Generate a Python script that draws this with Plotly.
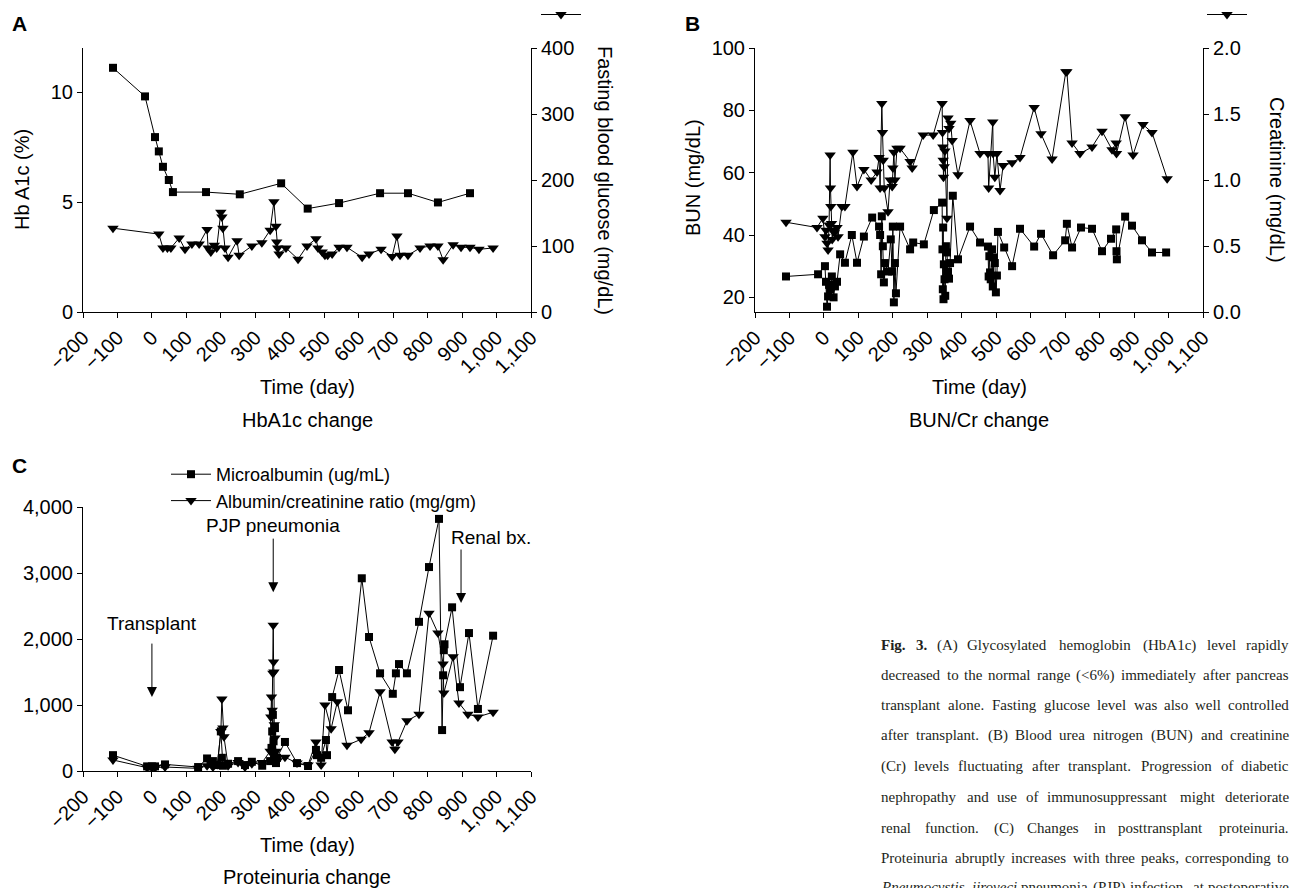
import plotly.graph_objects as go

# ---------------- data ----------------
# Panel A: HbA1c (%) and fasting blood glucose (mg/dL)
hba1c_day = [-113, -20, 9, 20, 32, 49, 61, 157, 255, 375, 452, 543, 662, 743, 830, 923]
hba1c_val = [11.1, 9.8, 7.95, 7.3, 6.6, 6.0, 5.45, 5.45, 5.35, 5.85, 4.7, 4.95, 5.4, 5.4, 4.98, 5.4]

glu_day = [-113, 20, 32, 45, 55, 79, 96, 116, 137, 160, 163, 171, 181, 188, 200, 203, 206, 212, 221,
           247, 253, 290, 319, 343, 354, 360, 362, 365, 369, 389, 424, 450, 476, 482, 494, 502, 510,
           523, 543, 566, 610, 630, 665, 697, 711, 720, 743, 778, 807, 830, 845, 874, 897, 923, 949, 990]
glu_val = [127, 118, 97, 97, 97, 112, 95, 103, 103, 125, 97, 91, 101, 97, 151, 144, 127, 97, 83,
           108, 86, 100, 105, 124, 167, 130, 106, 97, 88, 97, 80, 100, 111, 97, 91, 86, 86,
           88, 98, 98, 83, 88, 95, 84, 115, 86, 86, 97, 100, 100, 79, 102, 98, 98, 95, 97]

# Panel B: BUN (mg/dL) and creatinine (mg/dL)
bun_day = [-110, -17, 3, 6, 9, 12, 15, 18, 23, 28, 32, 38, 47, 61, 81, 96, 116, 140, 160, 163, 166,
           168, 171, 174, 177, 186, 194, 198, 200, 203, 206, 209, 221, 250, 259, 290, 319, 343, 344,
           345, 346, 347, 348, 350, 352, 354, 357, 360, 363, 366, 374, 389, 424, 453, 476, 478, 480,
           482, 484, 488, 490, 493, 496, 499, 502, 505, 523, 546, 569, 610, 630, 665, 700, 705, 720,
           746, 778, 807, 833, 848, 849, 850, 874, 894, 923, 952, 993]
bun_val = [26.7, 27.4, 30, 25, 17, 20.3, 24, 22.6, 26.7, 20, 23.5, 25, 33.8, 31.1, 40, 31.1, 39.5, 45.6,
           42.7, 40, 27.4, 46, 36.4, 24.8, 31, 28.3, 38.6, 28.3, 42.7, 18.4, 31, 21.3, 42.7, 35.4, 37.6,
           37, 48, 50.4, 35.4, 22.6, 42.4, 19.4, 30.6, 25.8, 20.5, 36.4, 34.4, 28.3, 26, 31, 52.6, 32.2,
           42.7, 37.6, 36.3, 26.7, 33.2, 28, 25.8, 35.4, 23.5, 32.8, 31, 21.6, 27, 41, 36, 30, 42, 36.3,
           40.4, 33.5, 38.3, 43.6, 36, 42.4, 42, 34.8, 38.8, 41.8, 34.8, 32.2, 45.9, 43, 38.3, 34.4, 34.4]

cr_day = [-110, -20, -3, 3, 6, 9, 12, 15, 18, 19, 20, 22, 24, 26, 30, 38, 41, 52, 61, 84, 96, 116,
          137, 154, 160, 163, 168, 170, 172, 175, 186, 192, 198, 200, 203, 206, 212, 221, 250, 256,
          288, 317, 343, 344, 345, 346, 347, 349, 351, 357, 360, 363, 368, 372, 389, 424, 453, 476,
          478, 490, 491, 496, 502, 511, 520, 546, 569, 610, 630, 662, 702, 705, 720, 743, 778, 807,
          836, 848, 849, 874, 897, 926, 952, 996]
cr_val = [0.68, 0.64, 0.71, 0.57, 0.62, 0.52, 0.47, 0.66, 1.19, 0.94, 0.80, 0.67, 0.55, 0.62, 0.60,
          0.64, 0.57, 0.80, 0.80, 1.21, 0.95, 1.08, 1.0, 1.06, 1.17, 0.94, 1.58, 1.36, 1.15, 0.94,
          0.76, 1.0, 0.95, 1.09, 1.21, 1.0, 1.24, 1.24, 1.14, 1.09, 1.34, 1.34, 1.58, 1.36, 1.25,
          1.15, 1.02, 1.10, 1.22, 0.71, 1.47, 1.39, 1.43, 1.30, 1.04, 1.45, 1.20, 1.20, 0.94, 1.44,
          1.20, 1.02, 1.20, 0.92, 1.11, 1.13, 1.17, 1.55, 1.35, 1.16, 1.82, 1.82, 1.28, 1.20, 1.25,
          1.37, 1.23, 1.28, 1.20, 1.48, 1.19, 1.42, 1.36, 1.01]

# Panel C: microalbumin (ug/mL) and albumin/creatinine ratio (mg/gm)
mal_day = [-113, -14, 0, 9, 38, 134, 160, 170, 177, 190, 200, 203, 206, 221, 250, 270, 290, 320,
           343, 347, 349, 351, 353, 355, 357, 360, 363, 386, 421, 453, 476, 479, 491, 505, 508, 523,
           543, 569, 609, 630, 662, 699, 708, 717, 740, 775, 804, 833, 842, 845, 847, 849, 871, 894,
           920, 946, 990]
mal_val = [240, 70, 70, 70, 100, 60, 190, 110, 150, 90, 600, 200, 80, 110, 150, 90, 140, 80,
           150, 350, 600, 850, 450, 250, 650, 120, 200, 440, 120, 76, 320, 240, 200, 470, 240, 1120,
           1530, 920, 2920, 2030, 1480, 1170, 1480, 1620, 1480, 2260, 3090, 3820, 620, 1450, 1830, 1920,
           2480, 1270, 2090, 940, 2050]

acr_day = [-113, -14, 0, 9, 38, 134, 160, 170, 177, 190, 200, 203, 206, 209, 221, 250, 270, 290,
           320, 343, 345, 347, 349, 351, 352, 353, 354, 355, 357, 360, 363, 386, 421, 453, 476, 491,
           502, 520, 538, 566, 607, 630, 662, 697, 705, 714, 740, 775, 804, 830, 845, 847, 874, 891,
           917, 946, 990]
acr_val = [167, 50, 50, 50, 60, 40, 80, 150, 60, 100, 600, 1090, 650, 520, 80, 130, 60, 110,
           130, 300, 820, 1120, 920, 1480, 2210, 1650, 1500, 700, 500, 300, 150, 210, 120, 90, 440, 90,
           1000, 640, 1050, 390, 480, 580, 1200, 440, 330, 440, 760, 860, 2390, 2090, 1620, 1180, 1730,
           1030, 860, 820, 890]

# events marked in panel C
event_label = ["Transplant", "PJP pneumonia", "Renal bx."]
event_day = [0, 352, 897]
event_level = [1120, 2710, 2545]

x_tickvals = list(range(-200, 1101, 100))
x_ticktext = ["\u2212200", "\u2212100", "0", "100", "200", "300", "400", "500", "600", "700",
              "800", "900", "1,000", "1,100"]

# caption lines; words prefixed "b:" are bold, "i:" italic
caption_lines = [
    "b:Fig. b:3. (A) Glycosylated hemoglobin (HbA1c) level rapidly",
    "decreased to the normal range (<6%) immediately after pancreas",
    "transplant alone. Fasting glucose level was also well controlled",
    "after transplant. (B) Blood urea nitrogen (BUN) and creatinine",
    "(Cr) levels fluctuating after transplant. Progression of diabetic",
    "nephropathy and use of immunosuppressant might deteriorate",
    "renal function. (C) Changes in posttransplant proteinuria.",
    "Proteinuria abruptly increases with three peaks, corresponding to",
    "i:Pneumocystis i:jiroveci pneumonia (PJP) infection, at postoperative",
]

# ---------------- layout helpers ----------------
W, H = 1294, 888
FONT = "Liberation Sans, Arial, sans-serif"
SERIF = "Liberation Serif, Times New Roman, serif"
FS = 20


def px(x):
    return x / W


def py(y):
    return 1 - y / H


xA = [px(83), px(531)]
xB = [px(755), px(1203)]
yAB = [py(312), py(48)]
yC = [py(771), py(507)]

line = dict(color="black", width=1)
sq = dict(symbol="square", size=8, color="black")
tri = dict(symbol="triangle-down", size=10, color="black")

fig = go.Figure()
fig.add_trace(go.Scatter(x=hba1c_day, y=hba1c_val, mode="lines+markers", line=line, marker=sq,
                         xaxis="x", yaxis="y", showlegend=False))
fig.add_trace(go.Scatter(x=glu_day, y=glu_val, mode="lines+markers", line=line, marker=tri,
                         xaxis="x", yaxis="y2", name="", legend="legend2"))
fig.add_trace(go.Scatter(x=bun_day, y=bun_val, mode="lines+markers", line=line, marker=sq,
                         xaxis="x2", yaxis="y3", showlegend=False))
fig.add_trace(go.Scatter(x=cr_day, y=cr_val, mode="lines+markers", line=line, marker=tri,
                         xaxis="x2", yaxis="y4", name="", legend="legend3"))
fig.add_trace(go.Scatter(x=mal_day, y=mal_val, mode="lines+markers", line=line, marker=sq,
                         xaxis="x3", yaxis="y5", name="Microalbumin (ug/mL)", legend="legend"))
fig.add_trace(go.Scatter(x=acr_day, y=acr_val, mode="lines+markers", line=line, marker=tri,
                         xaxis="x3", yaxis="y5", name="Albumin/creatinine ratio (mg/gm)",
                         legend="legend"))

axis_common = dict(showline=True, linecolor="black", linewidth=1, ticks="outside", ticklen=5,
                   tickwidth=1, tickcolor="black", showgrid=False, zeroline=False, automargin=False,
                   tickfont=dict(family=FONT, size=FS, color="black"))
xax = dict(axis_common, range=[-200, 1100], tickvals=x_tickvals, ticktext=x_ticktext, tickangle=-45)

fig.update_layout(
    width=W, height=H, margin=dict(l=0, r=0, t=0, b=0, autoexpand=False),
    paper_bgcolor="white", plot_bgcolor="white",
    font=dict(family=FONT, size=FS, color="black"),
    xaxis=dict(xax, domain=xA, anchor="y"),
    yaxis=dict(axis_common, domain=yAB, anchor="x", range=[0, 12], tickvals=[0, 5, 10]),
    yaxis2=dict(axis_common, overlaying="y", side="right", anchor="x", range=[0, 400],
                tickvals=[0, 100, 200, 300, 400]),
    xaxis2=dict(xax, domain=xB, anchor="y3"),
    yaxis3=dict(axis_common, domain=yAB, anchor="x2", range=[15.3, 100],
                tickvals=[20, 40, 60, 80, 100]),
    yaxis4=dict(axis_common, overlaying="y3", side="right", anchor="x2", range=[0, 2],
                tickvals=[0, 0.5, 1, 1.5, 2], ticktext=["0.0", "0.5", "1.0", "1.5", "2.0"]),
    xaxis3=dict(xax, domain=xA, anchor="y5"),
    yaxis5=dict(axis_common, domain=yC, anchor="x3", range=[0, 4000],
                tickvals=[0, 1000, 2000, 3000, 4000],
                ticktext=["0", "1,000", "2,000", "3,000", "4,000"]),
    legend=dict(x=px(166), y=py(456), xanchor="left", yanchor="top", bgcolor="rgba(0,0,0,0)",
                font=dict(family=FONT, size=18), itemwidth=40, tracegroupgap=0),
    legend2=dict(x=px(536), y=py(-5), xanchor="left", yanchor="top", bgcolor="rgba(0,0,0,0)",
                 itemwidth=40),
    legend3=dict(x=px(1202), y=py(-5), xanchor="left", yanchor="top", bgcolor="rgba(0,0,0,0)",
                 itemwidth=40),
)

ann = []


def text(t, x, y, size=FS, angle=0, bold=False, xanchor="center"):
    ann.append(dict(text=f"<b>{t}</b>" if bold else t, x=px(x), y=py(y), xref="paper", yref="paper",
                    showarrow=False, textangle=angle, xanchor=xanchor, yanchor="middle",
                    font=dict(family=FONT, size=size, color="black")))


# panel letters
text("A", 19, 24, size=21, bold=True)
text("B", 692, 24, size=21, bold=True)
text("C", 19, 465, size=21, bold=True)
# axis titles
text("Hb A1c (%)", 22, 180, angle=-90)
text("Fasting blood glucose (mg/dL)", 605, 180, angle=90)
text("BUN (mg/dL)", 693, 178, angle=-90)
text("Creatinine (mg/dL)", 1277, 180, angle=90)
text("Time (day)", 307, 387)
text("HbA1c change", 307, 420)
text("Time (day)", 979, 387)
text("BUN/Cr change", 979, 420)
text("Time (day)", 307, 845)
text("Proteinuria change", 307, 877)

# event arrows in panel C
text_shift = [0, 0, 30]
text_up = [74, 67, 66]
for lab, d, lev, sh, up in zip(event_label, event_day, event_level, text_shift, text_up):
    ann.append(dict(x=d, y=lev, xref="x3", yref="y5", text="", showarrow=True, arrowhead=2,
                    arrowsize=2, arrowwidth=1, arrowcolor="black", ax=0, ay=-55))
    ann.append(dict(x=d, y=lev, xref="x3", yref="y5", text=lab, showarrow=False, xshift=sh,
                    yshift=up, xanchor="center", yanchor="middle",
                    font=dict(family=FONT, size=19, color="black")))

# ---- justified caption (Times metrics, per 1000 em) ----
TW = {' ': 250, '!': 333, '%': 833, '(': 333, ')': 333, ',': 250, '-': 333, '.': 250, '/': 278,
      ':': 278, ';': 278, '<': 564, '>': 564, '?': 444,
      'A': 722, 'B': 667, 'C': 667, 'D': 722, 'E': 611, 'F': 556, 'G': 722, 'H': 722, 'I': 333,
      'J': 389, 'K': 722, 'L': 611, 'M': 889, 'N': 722, 'O': 722, 'P': 556, 'Q': 722, 'R': 667,
      'S': 556, 'T': 611, 'U': 722, 'V': 722, 'W': 944, 'X': 722, 'Y': 722, 'Z': 611,
      'a': 444, 'b': 500, 'c': 444, 'd': 500, 'e': 444, 'f': 333, 'g': 500, 'h': 500, 'i': 278,
      'j': 278, 'k': 500, 'l': 278, 'm': 778, 'n': 500, 'o': 500, 'p': 500, 'q': 500, 'r': 333,
      's': 389, 't': 278, 'u': 500, 'v': 500, 'w': 722, 'x': 500, 'y': 500, 'z': 444}
for dgt in "0123456789":
    TW[dgt] = 500
TW_I = dict(TW, P=611, m=722, y=444, r=389, v=444)
TW_B = dict(TW, F=611, g=500)

CAP_FS = 15
CAP_SCALE = 1.04
CAP_X0, CAP_X1 = 880, 1290
cap_y = [645, 675, 705, 735, 766, 797, 828, 858, 887]


def word_w(w, table):
    return sum(table.get(ch, 500) for ch in w) / 1000 * CAP_FS * CAP_SCALE


for ln, yy in zip(caption_lines, cap_y):
    words = ln.split(" ")
    items = []
    for w in words:
        if w.startswith("b:"):
            w = w[2:]
            items.append(("<b>" + w.replace("<", "&lt;") + "</b>", word_w(w, TW_B)))
        elif w.startswith("i:"):
            w = w[2:]
            items.append(("<i>" + w.replace("<", "&lt;") + "</i>", word_w(w, TW_I)))
        else:
            items.append((w.replace("<", "&lt;"), word_w(w, TW)))
    total = sum(wd for _, wd in items)
    gap = (CAP_X1 - CAP_X0 - total) / max(len(items) - 1, 1)
    xcur = CAP_X0
    for k, (t, wd) in enumerate(items):
        last = k == len(items) - 1
        ann.append(dict(text=t, x=px(CAP_X1 if last else xcur), y=py(yy), xref="paper", yref="paper",
                        showarrow=False, xanchor="right" if last else "left", yanchor="middle",
                        borderpad=0, font=dict(family=SERIF, size=CAP_FS, color="#231f20")))
        xcur += wd + gap

fig.update_layout(annotations=ann)
fig.write_html("out.html", config={"displayModeBar": False},
               post_script="document.body.style.margin='0';document.body.style.overflow='hidden';")
